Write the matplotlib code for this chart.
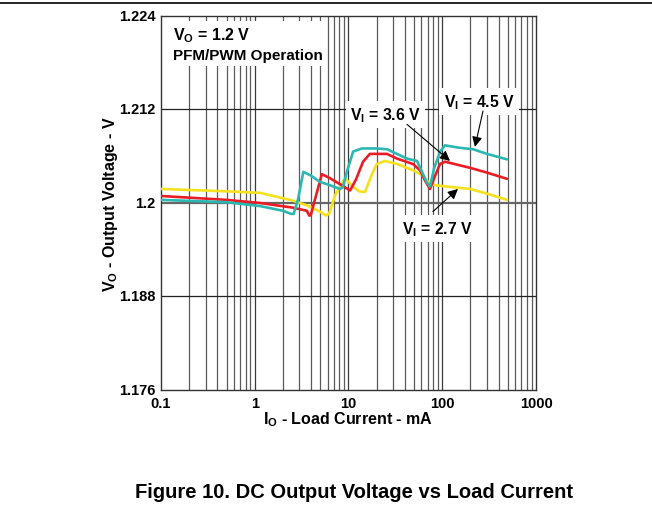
import numpy as np
import matplotlib
matplotlib.use("Agg")
import matplotlib.pyplot as plt
from matplotlib.lines import Line2D
from matplotlib.patches import Rectangle
from matplotlib.transforms import ScaledTranslation

plt.rcParams['font.family'] = ['Liberation Sans', 'DejaVu Sans']
plt.rcParams['font.weight'] = 'bold'
plt.rcParams['mathtext.fontset'] = 'custom'
plt.rcParams['mathtext.rm'] = 'Liberation Sans:bold'
plt.rcParams['mathtext.it'] = 'Liberation Sans:bold'
plt.rcParams['mathtext.bf'] = 'Liberation Sans:bold'

# --- data (load current mA, output voltage V) ---
i_45 = [0.1, 0.5, 1.14, 2.0, 2.45, 2.6, 2.9, 3.3, 4.0, 4.96, 6.3, 8.1, 8.7, 9.6, 11.2, 13.9, 20,
        25.7, 32.9, 42, 53.8, 60.8, 68, 74, 82, 95, 107, 150, 213, 300, 490]
v_45 = [1.2004, 1.2001, 1.1996, 1.1990, 1.1986, 1.1986, 1.2005, 1.2040, 1.2035, 1.2027, 1.2023,
        1.2018, 1.2020, 1.2040, 1.2066, 1.2070, 1.2070, 1.2069, 1.2063, 1.2057, 1.2054, 1.2040,
        1.2027, 1.2021, 1.2045, 1.2066, 1.2074, 1.2071, 1.2069, 1.2063, 1.2056]

i_36 = [0.1, 0.5, 1.14, 2.56, 3.6, 3.8, 3.95, 4.4, 5.2, 6.3, 8.7, 10.4, 12.0, 14.3, 16.9, 25.7,
        32.9, 48.8, 57.9, 66, 74, 84, 94.6, 107, 200, 300, 490]
v_36 = [1.2009, 1.2004, 1.2000, 1.1994, 1.1990, 1.1984, 1.1984, 1.2005, 1.2037, 1.2032, 1.2022,
        1.2016, 1.2030, 1.2053, 1.2063, 1.2063, 1.2057, 1.2050, 1.2042, 1.2028, 1.2018, 1.2035,
        1.2050, 1.2053, 1.2045, 1.2039, 1.2031]

i_27 = [0.1, 0.5, 1.14, 2.56, 3.6, 4.96, 5.7, 6.2, 7.2, 9.2, 10.9, 13.0, 15.0, 17.5, 20, 24.5,
        33, 48.8, 62.3, 74, 95, 198, 300, 491]
v_27 = [1.2018, 1.2015, 1.2013, 1.2003, 1.1997, 1.1989, 1.1984, 1.1986, 1.2010, 1.2032, 1.2022,
        1.2015, 1.2014, 1.2035, 1.2050, 1.2054, 1.2050, 1.2042, 1.2035, 1.2024, 1.2022, 1.2018,
        1.2012, 1.2004]

x_ticks = [0.1, 1, 10, 100, 1000]
x_ticklabels = ["0.1", "1", "10", "100", "1000"]
y_ticks = [1.176, 1.188, 1.2, 1.212, 1.224]
y_ticklabels = ["1.176", "1.188", "1.2", "1.212", "1.224"]

# label text position, arrow tail, arrow head (mA, V)
vi_labels = [r"V$_{\rm I}$ = 3.6 V", r"V$_{\rm I}$ = 4.5 V", r"V$_{\rm I}$ = 2.7 V"]
vi_text_pos = [(25, 1.2114), (247, 1.2130), (88, 1.1967)]
vi_tails = [(42, 1.2101), (272, 1.2118), (79.6, 1.1989)]
vi_heads = [(121, 1.2054), (223, 1.2072), (147, 1.2018)]

teal = '#2bb8b3'
red = '#ec1c24'
yellow = '#f5e21c'

fig = plt.figure(figsize=(6.52, 5.06), dpi=100)
ax = fig.add_axes([0.2469, 0.2273, 0.5752, 0.7391])
ax.set_xscale('log')
ax.set_xlim(0.1, 1000)
ax.set_ylim(1.176, 1.224)

# grid lines
for dec in [0.1, 1, 10, 100]:
    for k in range(1, 10):
        x = dec * k
        if x <= 0.1:
            continue
        ax.axvline(x, color='#3a3a3a' if k == 1 else '#5a5a5a', lw=0.9, zorder=1)
for y in [1.188, 1.212]:
    ax.axhline(y, color='#222222', lw=0.9, zorder=1)
ax.axhline(1.2, color='#666666', lw=1.6, zorder=1)

# white box behind the top-left notes
ax.add_patch(Rectangle((0.002, 0.867), 0.44, 0.119, transform=ax.transAxes,
                       facecolor='white', edgecolor='none', zorder=2))

kw = dict(lw=1.9, solid_capstyle='round', solid_joinstyle='round')
ax.plot(i_27, v_27, color=yellow, zorder=3, **kw)
ax.plot(i_36, v_36, color=red, zorder=4, **kw)
ax.plot(i_45, v_45, color=teal, zorder=5, **kw)

ax.set_xticks(x_ticks)
ax.set_xticklabels(x_ticklabels)
ax.set_xticks([], minor=True)
ax.set_yticks(y_ticks)
ax.set_yticklabels(y_ticklabels)
ax.tick_params(axis='x', length=0, labelsize=10.5, pad=4)
ax.tick_params(axis='y', length=0, labelsize=10.5, pad=4)
shift = ScaledTranslation(0, 1.5 / 100, fig.dpi_scale_trans)
for lab in ax.get_yticklabels():
    lab.set_transform(lab.get_transform() + shift)
for lab in ax.get_xticklabels() + ax.get_yticklabels():
    lab.set_fontweight('bold')
for s in ax.spines.values():
    s.set_color('#333333')
    s.set_linewidth(1.0)

ax.set_xlabel(r"I$_{\rm O}$ - Load Current - mA", fontsize=11.5, fontweight='bold', labelpad=0)
ax.set_ylabel(r"V$_{\rm O}$ - Output Voltage - V", fontsize=11.5, fontweight='bold', labelpad=-1)

ax.text(0.031, 0.950, r"V$_{\rm O}$ = 1.2 V", transform=ax.transAxes, fontsize=11.5,
        fontweight='bold', va='center', ha='left', zorder=6)
ax.text(0.031, 0.897, "PFM/PWM Operation", transform=ax.transAxes, fontsize=11,
        fontweight='bold', va='center', ha='left', zorder=6)

bb = dict(facecolor='white', edgecolor='none', pad=3)
ap = dict(arrowstyle='-|>', color='black', lw=0.8, mutation_scale=15, shrinkA=0, shrinkB=0)
for lab, tp, tail, head in zip(vi_labels, vi_text_pos, vi_tails, vi_heads):
    ax.text(tp[0], tp[1], lab, fontsize=11.3, fontweight='bold', ha='center', va='center',
            bbox=bb, zorder=7)
    ax.annotate("", xy=head, xytext=tail, arrowprops=ap, zorder=8)

# page rule and caption
fig.add_artist(Line2D([0, 1], [0.9930, 0.9930], color='black', lw=1.2))
fig.text(0.543, 0.0257, "Figure 10. DC Output Voltage vs Load Current", fontsize=14.5,
         fontweight='bold', ha='center', va='center')

fig.savefig("out.png", dpi=100)
